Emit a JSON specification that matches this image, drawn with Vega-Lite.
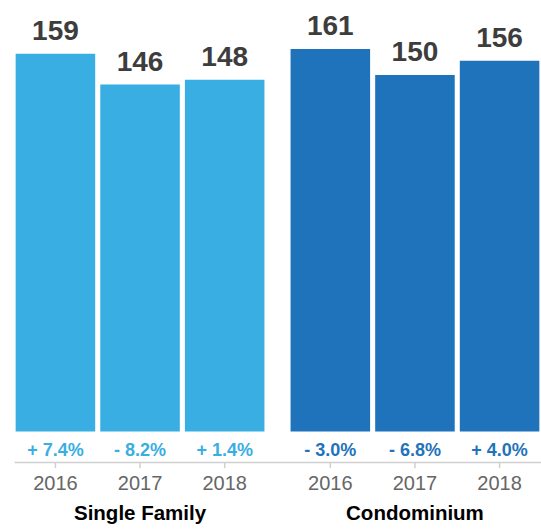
{
  "$schema": "https://vega.github.io/schema/vega-lite/v6.json",
  "width": 527,
  "height": 462,
  "autosize": {"type": "none"},
  "padding": {"left": 14, "top": 0, "right": 0, "bottom": 67},
  "background": "white",
  "config": {
    "view": {"stroke": null},
    "font": "Liberation Sans"
  },
  "data": {
    "values": [
      {"group": "Single Family", "year": "2016", "value": 159, "change": "+ 7.4%"},
      {"group": "Single Family", "year": "2017", "value": 146, "change": "- 8.2%"},
      {"group": "Single Family", "year": "2018", "value": 148, "change": "+ 1.4%"},
      {"group": "Condominium", "year": "2016", "value": 161, "change": "- 3.0%"},
      {"group": "Condominium", "year": "2017", "value": 150, "change": "- 6.8%"},
      {"group": "Condominium", "year": "2018", "value": 156, "change": "+ 4.0%"}
    ]
  },
  "encoding": {
    "x": {
      "field": "group",
      "type": "nominal",
      "sort": ["Single Family", "Condominium"],
      "scale": {"paddingInner": 0.095, "paddingOuter": 0.006},
      "axis": {
        "title": null,
        "ticks": false,
        "domainColor": "#d0d0d0",
        "domainWidth": 1.5,
        "labelAngle": 0,
        "labelFontSize": 20.5,
        "labelFontWeight": "bold",
        "labelColor": "#000000",
        "labelPadding": 41
      }
    },
    "xOffset": {
      "field": "year",
      "type": "nominal",
      "scale": {"paddingInner": 0.06, "paddingOuter": 0}
    },
    "color": {
      "field": "group",
      "type": "nominal",
      "scale": {"domain": ["Single Family", "Condominium"], "range": ["#39aee3", "#1f73bb"]},
      "legend": null
    }
  },
  "layer": [
    {
      "mark": {"type": "bar"},
      "encoding": {
        "y": {
          "field": "value",
          "type": "quantitative",
          "scale": {"domain": [-12.8, 181.6], "nice": false, "zero": false},
          "axis": null
        },
        "y2": {"datum": 0}
      }
    },
    {
      "mark": {"type": "text", "baseline": "alphabetic", "dy": -14, "fontSize": 28, "fontWeight": "bold", "color": "#3d3d3d"},
      "encoding": {
        "y": {"field": "value", "type": "quantitative"},
        "text": {"field": "value", "type": "quantitative"},
        "color": {"value": "#3d3d3d"}
      }
    },
    {
      "mark": {"type": "text", "baseline": "middle", "fontSize": 18, "fontWeight": "bold"},
      "encoding": {
        "y": {"datum": -8},
        "text": {"field": "change", "type": "nominal"}
      }
    },
    {
      "mark": {"type": "rule", "color": "#d0d0d0", "strokeWidth": 1.5},
      "encoding": {
        "y": {"datum": -12.8},
        "y2": {"datum": -15.4},
        "color": {"value": "#d0d0d0"}
      }
    },
    {
      "mark": {"type": "text", "baseline": "middle", "fontSize": 20, "color": "#666666"},
      "encoding": {
        "y": {"datum": -22.2},
        "text": {"field": "year", "type": "nominal"},
        "color": {"value": "#666666"}
      }
    }
  ]
}
